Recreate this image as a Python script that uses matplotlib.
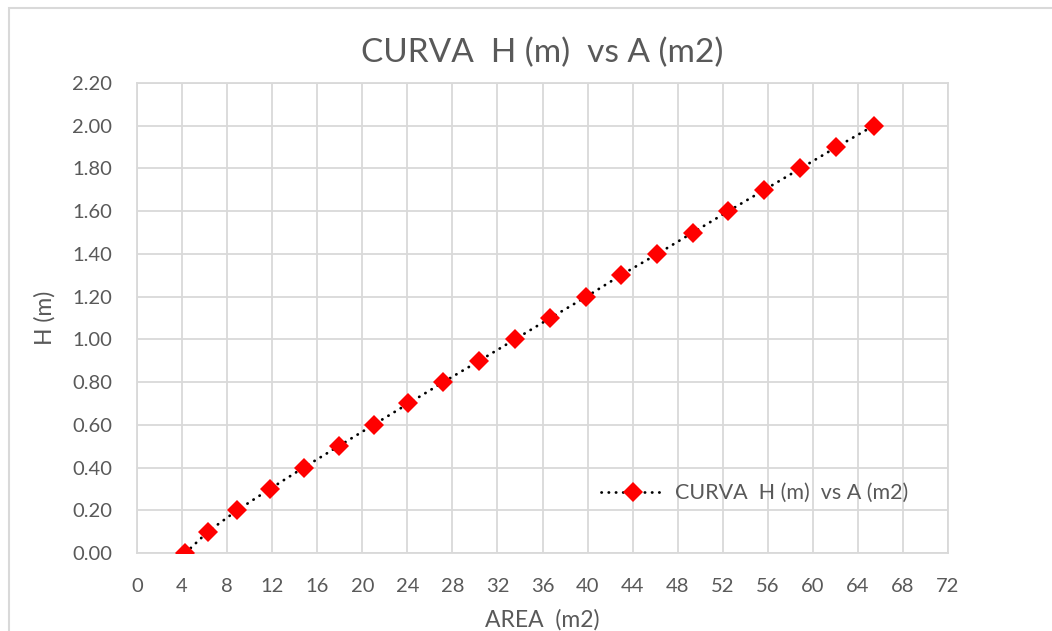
import matplotlib
matplotlib.use("Agg")
import matplotlib.pyplot as plt
from matplotlib.patches import Rectangle
from matplotlib.ticker import FormatStrFormatter, MultipleLocator

plt.rcParams["font.family"] = ["Lato", "DejaVu Sans"]

# Data
area_m2 = [4.3, 6.3, 8.9, 11.8, 14.8, 17.9, 21.0, 24.1, 27.2, 30.4, 33.55,
           36.7, 39.9, 42.95, 46.2, 49.35, 52.5, 55.7, 58.9, 62.1, 65.4]
h_m = [0.0, 0.1, 0.2, 0.3, 0.4, 0.5, 0.6, 0.7, 0.8, 0.9, 1.0,
       1.1, 1.2, 1.3, 1.4, 1.5, 1.6, 1.7, 1.8, 1.9, 2.0]
series_label = "CURVA  H (m)  vs A (m2)"

TEXT = "#595959"
GRID = "#d9d9d9"

fig = plt.figure(figsize=(10.52, 6.31), dpi=100)
ax = fig.add_axes([137 / 1052, 78 / 631, 811 / 1052, 470 / 631])

ax.plot(area_m2, h_m, color="black", linewidth=2.0, linestyle=(0, (0.1, 2.5)),
        dash_capstyle="round", marker="D", markersize=10.5,
        markerfacecolor="#ff0000", markeredgewidth=0, label=series_label, zorder=3)

ax.set_xlim(0, 72)
ax.set_ylim(0, 2.2)
ax.xaxis.set_major_locator(MultipleLocator(4))
ax.yaxis.set_major_locator(MultipleLocator(0.2))
ax.yaxis.set_major_formatter(FormatStrFormatter("%.2f"))
ax.grid(True, color=GRID, linewidth=1.3)
ax.set_axisbelow(True)
for sp in ax.spines.values():
    sp.set_color(GRID)
    sp.set_linewidth(1.3)
ax.tick_params(length=0, labelsize=14.5, labelcolor=TEXT)
ax.tick_params(axis="x", pad=18)
ax.tick_params(axis="y", pad=18)

ax.set_title("CURVA  H (m)  vs A (m2)", fontsize=24, color=TEXT, pad=15)
ax.set_xlabel("AREA  (m2)", fontsize=16.5, color=TEXT, labelpad=10)
ax.set_ylabel("H (m)", fontsize=16.5, color=TEXT, labelpad=12)

leg = ax.legend(loc="lower right", bbox_to_anchor=(0.975, 0.065), frameon=False,
                fontsize=15.5, handlelength=3.0, handletextpad=0.45)
for t in leg.get_texts():
    t.set_color(TEXT)

fig.add_artist(Rectangle((9 / 1052, -0.1), 1.2, 1 - 8 / 631 + 0.1, fill=False,
                         edgecolor=GRID, linewidth=1.5, transform=fig.transFigure))

fig.savefig("out.png", dpi=100)
